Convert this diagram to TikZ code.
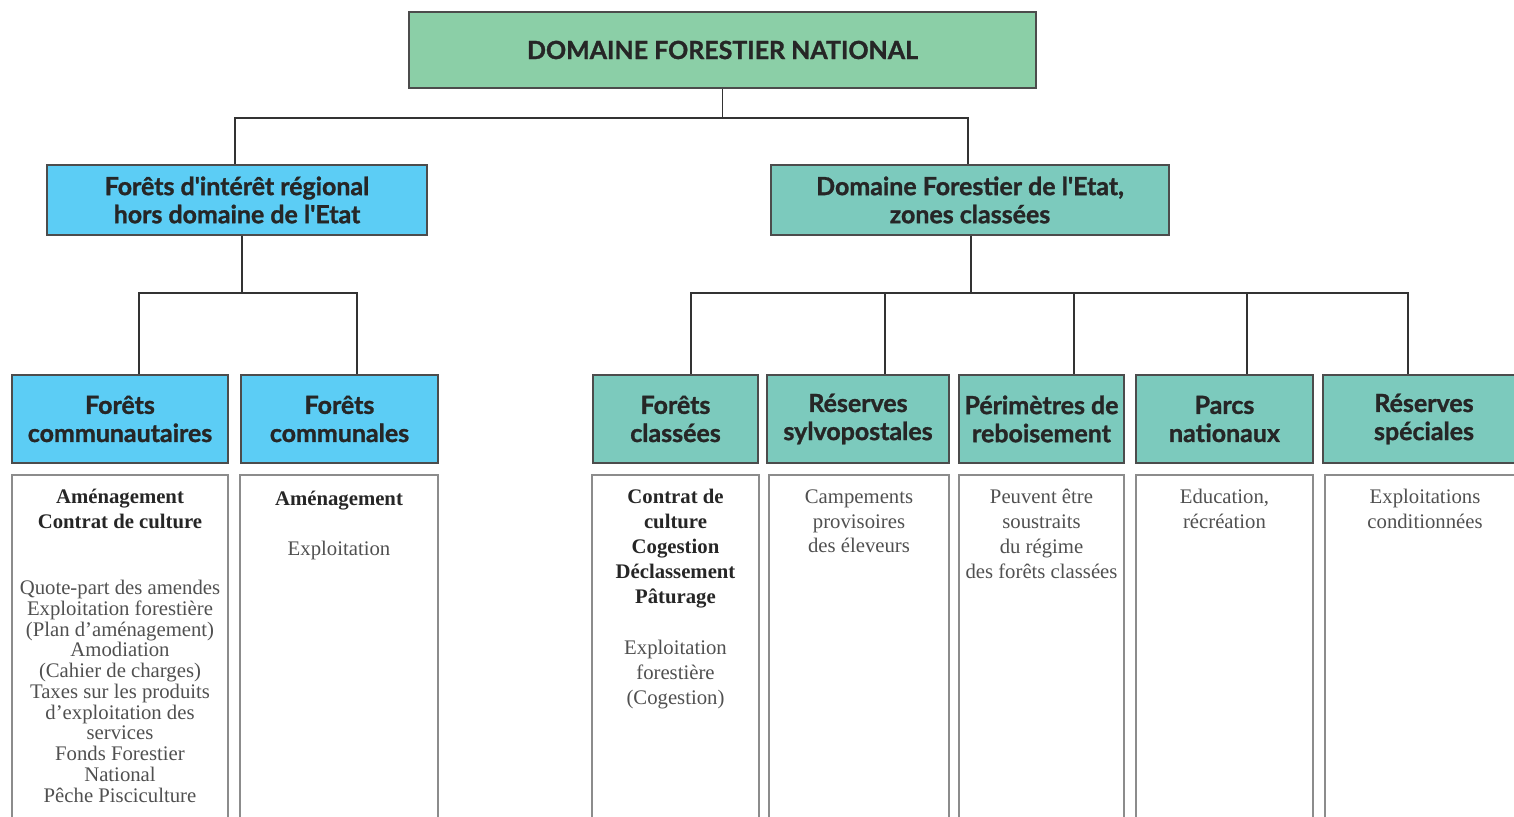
\documentclass[tikz,border=0pt]{standalone}
\usepackage{fontspec}
\setmainfont{Liberation Serif}
\newfontfamily\hdfont[BoldFeatures={FakeBold=1.2}]{Lato}
\usepackage{tikz}

\definecolor{topgreen}{HTML}{8BCFA7}
\definecolor{skyblue}{HTML}{5CCDF5}
\definecolor{tealbox}{HTML}{7CCABD}
\definecolor{framegray}{HTML}{8C8C8C}
\definecolor{txtgray}{HTML}{505050}

\begin{document}
\begin{tikzpicture}[x=0.2mm,y=-0.2mm,
		head/.style={draw=black!70,line width=0.9pt,align=center,inner sep=0pt,
			font=\hdfont\bfseries\fontsize{14.2}{16}\selectfont,text=black!85},
		sub/.style={head,minimum height=17.6mm},
		detail/.style={inner sep=0pt,minimum height=68.4mm},
		info/.style={anchor=north,align=center,inner sep=0pt,text=txtgray,
			font=\fontsize{11.8}{14.2}\selectfont},
		link/.style={draw=black!80,line width=1pt}]
	\path[use as bounding box,clip] (0,0) rectangle (1514,817);
	% top level
	\node[head,fill=topgreen,minimum width=125.4mm,minimum height=15.2mm] (top) at (722.5,50)
		{DOMAINE FORESTIER NATIONAL};
	\node[head,fill=skyblue,minimum width=76mm,minimum height=14mm] (reg) at (237,200)
		{Forêts d'intérêt régional\\hors domaine de l'Etat};
	\node[head,fill=tealbox,minimum width=79.6mm,minimum height=14mm] (etat) at (970,200)
		{Domaine Forestier de l'Etat,\\zones classées};
	% second level
	\node[sub,fill=skyblue,minimum width=43.2mm] (com1) at (120,419) {Forêts\\communautaires};
	\node[sub,fill=skyblue,minimum width=39.4mm] (com2) at (339.5,419) {Forêts\\communales};
	\node[sub,fill=tealbox,minimum width=33mm] (cls) at (675.5,419) {Forêts\\classées};
	\node[sub,fill=tealbox,minimum width=36.4mm] (syl) at (858,419) {Réserves\\sylvopostales};
	\node[sub,fill=tealbox,minimum width=33mm] (reb) at (1041.5,419) {Périmètres de\\reboisement};
	\node[sub,fill=tealbox,minimum width=35.4mm] (parc) at (1224.5,419) {Parcs\\nationaux};
	\node[sub,fill=tealbox,minimum width=40.4mm] (spe) at (1424,419) {Réserves\\spéciales};
	% connectors
	\draw[link] (top.south) -- ++(0,29) coordinate (bar0) -| ([xshift=-0.4mm]reg.north);
	\draw[link] (bar0) -| ([xshift=-0.4mm]etat.north);
	\draw[link] ([xshift=1mm]reg.south) -- ++(0,57) coordinate (bar1) -| ([xshift=3.8mm]com1.north);
	\draw[link] (bar1) -| ([xshift=3.5mm]com2.north);
	\draw[link] ([xshift=0.2mm]etat.south) -- ++(0,57) coordinate (bar2) -| ([xshift=3.1mm]cls.north);
	\draw[link] (bar2) -| ([xshift=5.4mm]syl.north);
	\draw[link] (bar2) -| ([xshift=6.5mm]reb.north);
	\draw[link] (bar2) -| ([xshift=4.5mm]parc.north);
	\draw[link] (bar2) -| ([xshift=-3.2mm]spe.north);
	% detail columns, open at the bottom
	\node[detail,minimum width=43.2mm] (d1) at (120,646) {};
	\node[detail,minimum width=39.6mm] (d2) at (339,646) {};
	\node[detail,minimum width=33.4mm] (d3) at (675.5,646) {};
	\node[detail,minimum width=36mm] (d4) at (859,646) {};
	\node[detail,minimum width=33mm] (d5) at (1041.5,646) {};
	\node[detail,minimum width=35.4mm] (d6) at (1224.5,646) {};
	\node[detail,minimum width=40mm] (d7) at (1425,646) {};
	\foreach \d in {d1,d2,d3,d4,d5,d6,d7}
		\draw[framegray,line width=1.2pt] (\d.south west) |- (\d.north east) -- (\d.south east);
	% texts
	\node[info,text=black!85] (t1) at (120,489) {\bfseries Aménagement\\\bfseries Contrat de culture};
	\node[info,font=\fontsize{11.8}{11.8}\selectfont] (t1b) at (120,580) {Quote-part des amendes\\
		Exploitation forestière\\(Plan d'aménagement)\\Amodiation\\(Cahier de charges)\\
		Taxes sur les produits\\d'exploitation des\\services\\Fonds Forestier\\National\\Pêche Pisciculture};
	\node[info,text=black!85] (t2) at (339,491) {\bfseries Aménagement};
	\node[info] (t2b) at (339,541) {Exploitation};
	\node[info,text=black!85] (t3) at (675.5,489) {\bfseries Contrat de\\\bfseries culture\\
		\bfseries Cogestion\\\bfseries Déclassement\\\bfseries Pâturage};
	\node[info] (t3b) at (675.5,640) {Exploitation\\forestière\\(Cogestion)};
	\node[info] (t4) at (859,489) {Campements\\provisoires\\des éleveurs};
	\node[info] (t5) at (1041.5,489) {Peuvent être\\soustraits\\du régime\\des forêts classées};
	\node[info] (t6) at (1224.5,489) {Education,\\récréation};
	\node[info] (t7) at (1425,489) {Exploitations\\conditionnées};
\end{tikzpicture}
\end{document}
